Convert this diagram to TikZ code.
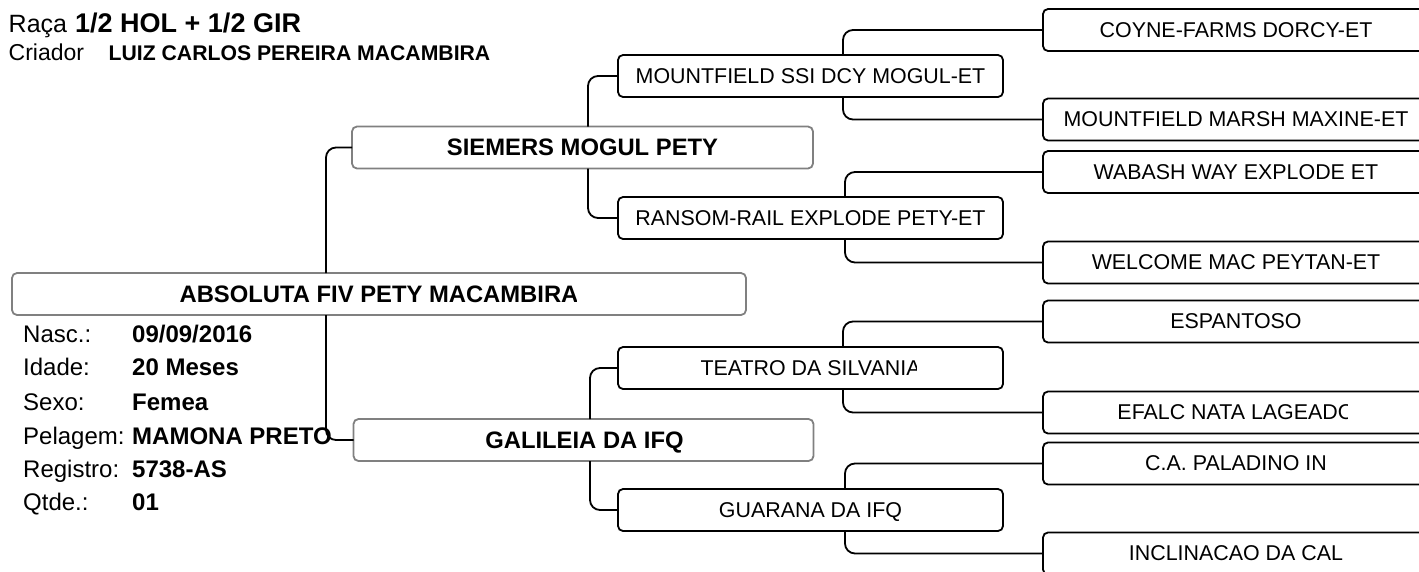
\documentclass[tikz,border=0pt]{standalone}
\usepackage{fontspec}
\setmainfont{Liberation Sans}
\newcommand\pedsz{\fontsize{21.4}{25}\selectfont}
\newcommand\boldsz{\fontsize{23.8}{28}\selectfont\bfseries}
\newcommand\infosz{\fontsize{24}{28}\selectfont}
\tikzset{
  conn/.style={draw=black, line width=1.8pt, rounded corners=10pt},
  pedbox/.style={draw=black, line width=1.8pt, fill=white, rounded corners=5pt,
    minimum width=385pt, minimum height=42pt, inner sep=0pt, outer sep=0pt},
  grbox/.style={draw=black!50, line width=1.8pt, fill=white, rounded corners=5pt,
    minimum height=42pt, inner sep=0pt, outer sep=0pt},
  pedtxt/.style={anchor=base, inner sep=0pt, font=\pedsz},
  boldtxt/.style={anchor=base, inner sep=0pt, font=\boldsz},
  lbl/.style={anchor=base west, inner sep=0pt, font=\infosz},
  val/.style={anchor=base west, inner sep=0pt, font=\infosz\bfseries},
}
\begin{document}
\begin{tikzpicture}[x=1pt,y=-1pt]
\useasboundingbox (0,0) rectangle (1419,571);
\clip (0,0) rectangle (1419,571);

% header
\node[anchor=base west, inner sep=0pt, font=\fontsize{25}{30}\selectfont] (raca) at (8.5,32) {Raça};
\node[anchor=base west, inner sep=0pt, font=\fontsize{27}{30}\selectfont\bfseries] (racav) at (75,32) {1/2 HOL + 1/2 GIR};
\node[anchor=base west, inner sep=0pt, font=\fontsize{23}{26}\selectfont] (criador) at (8.5,60) {Criador};
\node[anchor=base west, inner sep=0pt, font=\fontsize{21.2}{26}\selectfont\bfseries] (criadorv) at (108.5,60) {LUIZ CARLOS PEREIRA MACAMBIRA};

% trunk positions
\coordinate (ta) at (326,0);
\coordinate (tb) at (588,0);
\coordinate (tc) at (590,0);
\coordinate (td) at (843,0);
\coordinate (tf) at (845,0);

% boxes
\node[grbox, minimum width=734pt] (main) at (379,294) {};
\node[grbox, minimum width=461pt] (sire) at (582.5,147.5) {};
\node[grbox, minimum width=460pt] (dam) at (583.5,440) {};
\node[pedbox] (ms) at (810.5,76) {};
\node[pedbox] (rr) at (810.5,218) {};
\node[pedbox] (te) at (810.5,368) {};
\node[pedbox] (gu) at (810.5,510) {};
\node[pedbox, minimum width=386pt] (g1) at (1236,30) {};
\node[pedbox, minimum width=386pt] (g2) at (1236,119.5) {};
\node[pedbox, minimum width=386pt] (g3) at (1236,172) {};
\node[pedbox, minimum width=386pt] (g4) at (1236,262.5) {};
\node[pedbox, minimum width=386pt] (g5) at (1236,321.5) {};
\node[pedbox, minimum width=386pt] (g6) at (1236,412.5) {};
\node[pedbox, minimum width=386pt] (g7) at (1236,463.5) {};
\node[pedbox, minimum width=386pt] (g8) at (1236,553.5) {};

% connectors
\draw[conn] (main.north -| ta) |- (sire.west);
\draw[conn] (main.south -| ta) |- (dam.west);
\draw[conn] (sire.north -| tb) |- (ms.west);
\draw[conn] (sire.south -| tb) |- (rr.west);
\draw[conn] (dam.north -| tc) |- (te.west);
\draw[conn] (dam.south -| tc) |- (gu.west);
\draw[conn] (ms.north -| td) |- (g1.west);
\draw[conn] (ms.south -| td) |- (g2.west);
\draw[conn] (rr.north -| tf) |- (g3.west);
\draw[conn] (rr.south -| tf) |- (g4.west);
\draw[conn] (te.north -| td) |- (g5.west);
\draw[conn] (te.south -| td) |- (g6.west);
\draw[conn] (gu.north -| tf) |- (g7.west);
\draw[conn] (gu.south -| tf) |- (g8.west);

% box texts
\begin{scope}
  \clip (12,273) rectangle (576,315);
  \node[boldtxt] (tmain) at (379,302.4) {ABSOLUTA FIV PETY MACAMBIRA};
\end{scope}
\node[boldtxt] (tsire) at (582.5,155.9) {SIEMERS MOGUL PETY};
\node[boldtxt] (tdam) at (584.5,448.4) {GALILEIA DA IFQ};
\node[pedtxt] (tms) at (810.5,83.3) {MOUNTFIELD SSI DCY MOGUL-ET};
\node[pedtxt] (trr) at (810.5,225.3) {RANSOM-RAIL EXPLODE PETY-ET};
\begin{scope}
  \clip (618,347) rectangle (916,389);
  \node[pedtxt] (tte) at (810.5,375.3) {TEATRO DA SILVANIA};
\end{scope}
\begin{scope}
  \clip (618,489) rectangle (903,531);
  \node[pedtxt] (tgu) at (810.5,517.3) {GUARANA DA IFQ};
\end{scope}
\begin{scope}
  \clip (1043,9) rectangle (1372,51);
  \node[pedtxt] (tg1) at (1236,37.3) {COYNE-FARMS DORCY-ET};
\end{scope}
\node[pedtxt] (tg2) at (1236,126.8) {MOUNTFIELD MARSH MAXINE-ET};
\node[pedtxt] (tg3) at (1236,179.3) {WABASH WAY EXPLODE ET};
\node[pedtxt] (tg4) at (1236,269.8) {WELCOME MAC PEYTAN-ET};
\node[pedtxt] (tg5) at (1236,328.8) {ESPANTOSO};
\begin{scope}
  \clip (1043,392) rectangle (1347,433);
  \node[pedtxt] (tg6) at (1236,419.8) {EFALC NATA LAGEADO};
\end{scope}
\node[pedtxt] (tg7) at (1236,470.8) {C.A. PALADINO IN};
\node[pedtxt] (tg8) at (1236,560.8) {INCLINACAO DA CAL};

% info block
\node[lbl] (l1) at (23,342) {Nasc.:};
\node[lbl] (l2) at (23,375) {Idade:};
\node[lbl] (l3) at (23,410) {Sexo:};
\node[lbl] (l4) at (23,444) {Pelagem:};
\node[lbl] (l5) at (23,477) {Registro:};
\node[lbl] (l6) at (23,510) {Qtde.:};
\node[val] (v1) at (132,342) {09/09/2016};
\node[val] (v2) at (132,375) {20 Meses};
\node[val] (v3) at (132,410) {Femea};
\node[val] (v4) at (132,444) {MAMONA PRETO};
\node[val] (v5) at (132,477) {5738-AS};
\node[val] (v6) at (132,510) {01};
\end{tikzpicture}
\end{document}
